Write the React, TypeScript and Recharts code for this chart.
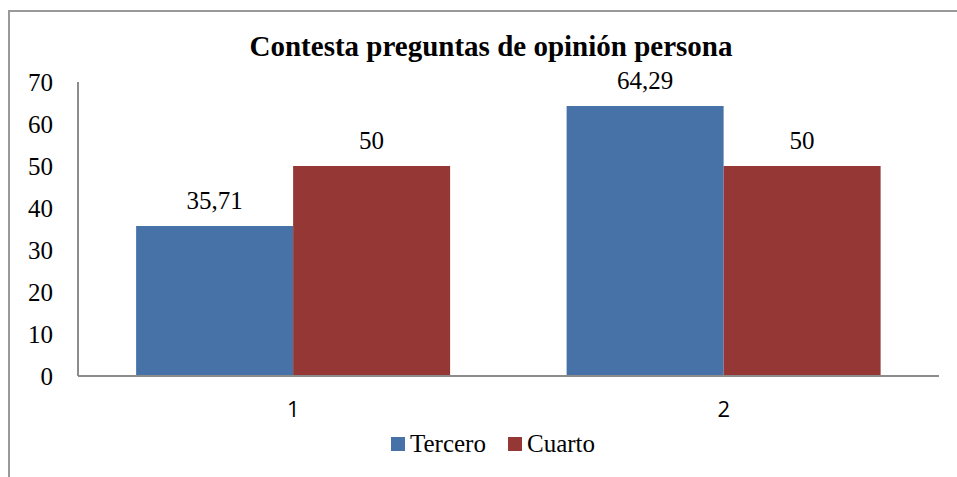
import React from 'react';
import { BarChart, Bar, XAxis, YAxis, Legend, LabelList } from 'recharts';

const categories = ['1', '2'];
const tercero = [35.71, 64.29];
const cuarto = [50, 50];
const yTicks = [0, 10, 20, 30, 40, 50, 60, 70];
const seriesNames = ['Tercero', 'Cuarto'];
const seriesColors = ['#4672A8', '#953735'];
const title = 'Contesta preguntas de opinión persona';

const data = categories.map((c, i) => ({ name: c, tercero: tercero[i], cuarto: cuarto[i] }));

const serif = 'Liberation Serif, Tinos, Times New Roman, Times, DejaVu Serif, Noto Serif, serif';
const fmt = (v: any) => String(v).replace('.', ',');

const LegendContent = () => (
  <div
    style={{
      display: 'flex',
      justifyContent: 'center',
      alignItems: 'center',
      height: 34,
      paddingLeft: 47,
      fontFamily: serif,
      fontSize: 25,
      color: '#000',
    }}
  >
    {seriesNames.map((n, i) => (
      <div key={n} style={{ display: 'flex', alignItems: 'center', marginRight: i === 0 ? 22 : 0 }}>
        <div style={{ width: 14, height: 14, background: seriesColors[i], marginRight: 5 }} />
        <span>{n}</span>
      </div>
    ))}
  </div>
);

export default function App() {
  return (
    <div style={{ position: 'absolute', left: 0, top: 0, width: 957, height: 477, background: '#fff' }}>
      <div
        style={{
          position: 'absolute',
          left: 8,
          top: 10,
          width: 949,
          height: 467,
          borderLeft: '2px solid #999',
          borderTop: '2px solid #999',
          boxSizing: 'border-box',
        }}
      />
      <div
        style={{
          position: 'absolute',
          left: 0,
          width: 982,
          top: 29,
          textAlign: 'center',
          fontFamily: serif,
          fontWeight: 'bold',
          fontSize: 29,
          lineHeight: '34px',
          color: '#000',
        }}
      >
        {title}
      </div>
      <div style={{ position: 'absolute', left: 0, top: 0 }}>
        <BarChart
          width={957}
          height={477}
          data={data}
          margin={{ top: 82, right: 18, left: 0, bottom: 0 }}
          barCategoryGap="13.5%"
          barGap={0}
        >
          <XAxis
            dataKey="name"
            tickLine={false}
            axisLine={{ stroke: '#8c8c8c', strokeWidth: 2 }}
            tickSize={6}
            tickMargin={19}
            height={51}
            tick={{ fill: '#000', fontSize: 22, fontFamily: 'Open Sans, Noto Sans, sans-serif' }}
          />
          <YAxis
            domain={[0, 70]}
            ticks={yTicks}
            width={78}
            tickLine={false}
            axisLine={{ stroke: '#8c8c8c', strokeWidth: 2 }}
            tickSize={6}
            tickMargin={19}
            tick={{ fill: '#000', fontSize: 25, fontFamily: serif }}
          />
          <Legend verticalAlign="bottom" height={50} content={<LegendContent />} />
          <Bar dataKey="tercero" name={seriesNames[0]} fill={seriesColors[0]} isAnimationActive={false}>
            <LabelList
              dataKey="tercero"
              position="top"
              offset={17}
              formatter={fmt}
              style={{ fill: '#000', fontSize: 25, fontFamily: serif }}
            />
          </Bar>
          <Bar dataKey="cuarto" name={seriesNames[1]} fill={seriesColors[1]} isAnimationActive={false}>
            <LabelList
              dataKey="cuarto"
              position="top"
              offset={17}
              formatter={fmt}
              style={{ fill: '#000', fontSize: 25, fontFamily: serif }}
            />
          </Bar>
        </BarChart>
      </div>
    </div>
  );
}
